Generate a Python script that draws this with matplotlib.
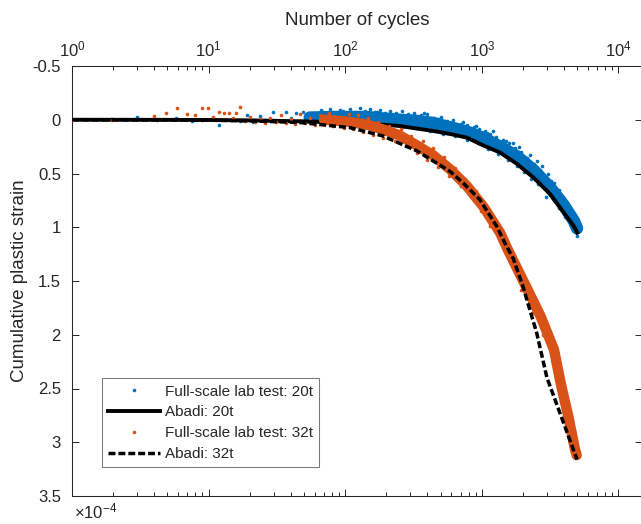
import numpy as np
import matplotlib.pyplot as plt

plt.rcParams['font.family'] = ['Liberation Sans', 'DejaVu Sans']
plt.rcParams['mathtext.fontset'] = 'custom'
plt.rcParams['mathtext.rm'] = 'Liberation Sans'
plt.rcParams['mathtext.it'] = 'Liberation Sans:italic'

blue = '#0072BD'
orange = '#D95319'
grey = '#262626'

# Abadi model (strain in units of 1e-4)
abadi20_n = [1, 5, 10, 20, 47, 100, 143, 250, 440, 600, 776, 1030, 1360, 1808, 2400, 3160, 3960, 4720, 5000]
abadi20_y = [0, 0.001, 0.002, 0.006, 0.014, 0.025, 0.035, 0.058, 0.104, 0.135, 0.166, 0.24, 0.305, 0.41, 0.54, 0.69, 0.86, 0.99, 1.05]

abadi32_n = [1, 5, 10, 20, 47, 108, 188, 335, 585, 733, 964, 1285, 1480, 1700, 2000, 2520, 3000, 4980]
abadi32_y = [0, 0.002, 0.004, 0.01, 0.026, 0.073, 0.15, 0.29, 0.48, 0.59, 0.74, 0.99, 1.15, 1.29, 1.55, 1.98, 2.40, 3.16]

# lab test 20t: dense trace centre + scattered readings
lab20_band_n = [55, 82, 144, 189, 250, 331, 440, 585, 776, 1030, 1360, 1808, 2400, 3160, 3960, 4720, 4980]
lab20_band_y = [-0.02, -0.025, -0.025, -0.012, 0.0, 0.01, 0.03, 0.07, 0.11, 0.17, 0.25, 0.34, 0.47, 0.63, 0.79, 0.94, 1.01]

lab20_pts_n = [1, 1.95, 3, 4.2, 5.8, 7.5, 8.9, 12, 14.5, 17, 19, 21, 23.7, 26, 29.8, 33, 37, 40, 44, 47, 49.5, 53, 58, 62,
               66, 72, 78, 85, 92, 100, 108, 118, 128, 140, 152, 165, 180, 195, 213, 235, 260, 290, 320, 360, 400, 450,
               500, 560, 620, 700, 780, 870, 950, 1050, 1150, 1280, 1420, 1580, 1750, 1950, 2150, 2400, 2650, 2900,
               3200, 3500, 3800, 4100, 4400, 4700, 4950,
               80, 110, 150, 200, 260, 330, 420, 520, 640, 780, 940, 1120, 1320, 1550, 1800, 2050, 2300, 2600, 2940,
               3300, 3700, 4100, 4500, 4800, 5000,
               69, 96, 123, 170, 225, 305, 380, 475, 590, 730, 900, 1090, 1210, 1500, 1680, 1880, 2250, 2520, 2780,
               3050, 3400, 3650, 3950, 4250, 4600, 4850]
lab20_pts_y = [0.0, -0.01, -0.03, 0.0, -0.02, 0.01, 0.005, 0.05, 0.0, 0.01, -0.045, 0.02, -0.035, 0.0, -0.07, 0.01, -0.075, -0.02, -0.06, 0.02, -0.07, -0.03, -0.05, 0.01,
               -0.09, -0.06, -0.1, -0.05, -0.09, -0.06, -0.1, -0.07, -0.11, -0.08, -0.1, -0.07, -0.09, -0.06, -0.08, -0.06, -0.08, -0.05, -0.065, -0.04, -0.05, -0.02,
               -0.03, 0.01, 0.0, 0.04, 0.05, 0.07, 0.09, 0.1, 0.13, 0.16, 0.19, 0.22, 0.26, 0.3, 0.36, 0.41, 0.47, 0.52,
               0.57, 0.64, 0.7, 0.76, 0.83, 0.89, 0.95,
               0.03, 0.04, 0.045, 0.05, 0.07, 0.08, 0.1, 0.13, 0.15, 0.19, 0.22, 0.27, 0.32, 0.37, 0.43, 0.49, 0.55, 0.6, 0.715,
               0.74, 0.82, 0.9, 0.98, 1.04, 1.08,
               -0.07, -0.085, -0.06, -0.075, -0.05, -0.035, -0.06, -0.01, 0.03, 0.02, 0.06, 0.12, 0.1, 0.2, 0.22, 0.25, 0.33, 0.38, 0.43,
               0.5, 0.59, 0.65, 0.72, 0.8, 0.87, 0.93]

# lab test 32t
lab32_band_n = [70, 100, 144, 189, 250, 331, 440, 585, 776, 1030, 1360, 1540, 2050, 2700, 3380, 3780, 4300, 4820, 4950]
lab32_band_y = [0.0, 0.015, 0.045, 0.09, 0.145, 0.235, 0.33, 0.46, 0.615, 0.81, 1.05, 1.2, 1.52, 1.83, 2.14, 2.45, 2.76, 3.07, 3.12]

lab32_pts_n = [1, 1.96, 4, 4.9, 5.9, 6.9, 7.9, 8.9, 9.9, 10.8, 12, 13, 14, 15, 16, 17, 18.5, 20, 22, 24, 26, 28, 31, 34,
               37, 40, 43, 47, 51, 55, 60, 65, 70, 76, 82, 90, 98,
               106, 115, 125, 135, 148, 160, 175, 190, 210, 230, 255, 280, 305, 335, 370, 400, 440, 480, 530, 580,
               640, 700, 760, 830, 900, 980, 1060, 1150, 1240, 1350, 1450, 1600, 1750, 1950, 2100, 2350, 2550, 2800,
               3050, 3300, 3450, 3650, 3850, 4100, 4300, 4550, 4700, 4900, 5000,
               2250, 2450, 2650, 2300]
lab32_pts_y = [0.0, 0.005, -0.035, -0.06, -0.11, -0.05, -0.045, -0.11, -0.11, -0.03, -0.07, -0.06, -0.06, -0.02, -0.06, -0.12, 0.01, -0.03, 0.02, -0.01, 0.03, -0.02, 0.02, -0.04,
               0.03, -0.01, 0.04, -0.05, 0.03, -0.02, 0.05, -0.04, 0.04, -0.06, 0.06, -0.03, 0.08,
               -0.05, 0.09, -0.04, 0.11, -0.02, 0.14, 0.02, 0.17, 0.06, 0.2, 0.09, 0.24, 0.15, 0.31, 0.2, 0.37, 0.26, 0.44, 0.35, 0.52,
               0.45, 0.62, 0.55, 0.72, 0.66, 0.85, 0.79, 0.99, 0.93, 1.13, 1.1, 1.32, 1.32, 1.58, 1.5, 1.8, 1.7, 2.0,
               1.95, 2.25, 2.1, 2.45, 2.38, 2.7, 2.65, 2.95, 2.9, 3.1, 3.08,
               1.6, 1.72, 1.78, 1.62]

yticks = [-0.5, 0, 0.5, 1, 1.5, 2, 2.5, 3, 3.5]
ytick_labels = ['-0.5', '0', '0.5', '1', '1.5', '2', '2.5', '3', '3.5']
xticks = [1, 10, 100, 1000, 10000]

fig = plt.figure(figsize=(6.41, 5.24), dpi=100)
ax = fig.add_axes([72 / 641, 28 / 524, 570 / 641, 430 / 524])

ax.plot(lab20_band_n, lab20_band_y, color=blue, lw=9, solid_capstyle='round', zorder=2)
ax.plot(lab20_pts_n, lab20_pts_y, 'o', ms=2.6, color=blue, mec='none', zorder=2,
        label='Full-scale lab test: 20t')
ax.plot(abadi20_n, abadi20_y, '-', color='k', lw=2.8, zorder=3, label='Abadi: 20t')
ax.plot(lab32_band_n, lab32_band_y, color=orange, lw=7.5, solid_capstyle='round', zorder=4)
ax.plot(lab32_pts_n, lab32_pts_y, 'o', ms=2.6, color=orange, mec='none', zorder=4,
        label='Full-scale lab test: 32t')
ax.plot(abadi32_n, abadi32_y, color='k', lw=2.5, dashes=(2.0, 0.85), zorder=5,
        label='Abadi: 32t')

ax.set_xscale('log')
ax.set_xlim(1, 10 ** 4.173)
ax.set_ylim(3.5, -0.5)
ax.set_xticks(xticks)
ax.set_yticks(yticks)
ax.set_yticklabels(ytick_labels)

ax.xaxis.set_ticks_position('both')
ax.xaxis.set_label_position('top')
ax.tick_params(axis='x', which='both', labeltop=True, labelbottom=False)
ax.yaxis.set_ticks_position('both')
ax.tick_params(which='major', direction='in', length=5, width=0.7, colors=grey, labelsize=12)
ax.tick_params(which='minor', direction='in', length=3, width=0.7, colors=grey)
ax.tick_params(axis='x', pad=5)
ax.tick_params(axis='y', pad=8)
for sp in ax.spines.values():
    sp.set_color(grey)
    sp.set_linewidth(0.75)

ax.set_xlabel('Number of cycles', fontsize=13.5, color=grey, labelpad=10)
ax.set_ylabel('Cumulative plastic strain', fontsize=13.5, color=grey, labelpad=3)

ax.text(0.004, -0.052, r'$\times10^{-4}$', transform=ax.transAxes, fontsize=12,
        color=grey, va='baseline', ha='left')

leg = ax.legend(loc='lower left', bbox_to_anchor=(0.0521, 0.0667), borderaxespad=0,
                fontsize=11, frameon=True, fancybox=False, handlelength=3.4,
                handletextpad=0.33, labelspacing=0.45, borderpad=0.4)
leg.get_frame().set_edgecolor('0.35')
leg.get_frame().set_linewidth(0.75)
for t in leg.get_texts():
    t.set_color(grey)

fig.savefig('out.png', dpi=100)
